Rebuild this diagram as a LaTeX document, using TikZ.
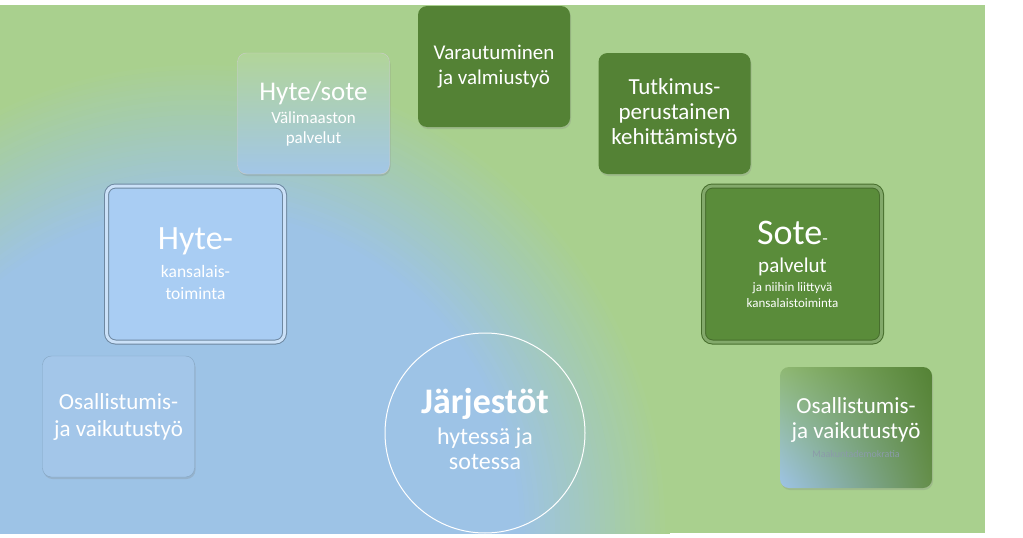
\documentclass[tikz,border=0pt]{standalone}
\usepackage{fontspec}
\setmainfont{Carlito}
\usetikzlibrary{shadows,shadings}

\definecolor{bgblue}{RGB}{157,195,230}
\definecolor{bggreen}{RGB}{169,208,142}
\definecolor{darkgreen}{RGB}{84,130,53}
\definecolor{sotegreen}{RGB}{90,140,58}
\definecolor{hyteblue}{RGB}{169,205,243}
\definecolor{osblue}{RGB}{163,198,233}

\tikzset{
  tile/.style={rounded corners=9pt, minimum width=152pt, minimum height=121pt,
    align=center, text=white, inner sep=0pt,
    drop shadow={opacity=0.25, shadow xshift=1pt, shadow yshift=-2pt}},
  bigtile/.style={tile, minimum width=178pt, minimum height=156pt, line width=1pt,
    double distance=3pt},
  ring/.style={circle, draw=white, line width=1pt, minimum size=200pt, inner sep=0pt,
    align=center, text=white}
}

\begin{document}
\begin{tikzpicture}[x=1pt,y=-1pt]
  \useasboundingbox (0,0) rectangle (1023,538);
  % background
  \begin{scope}
    \clip (0,5) rectangle (985,533);
    \fill[bggreen] (0,5) rectangle (985,533);
    \foreach \i in {0,...,30}
      \fill[bgblue!\fpeval{round(\i*100/30)}!bggreen] (200,530) circle [radius=470-5*\i];
  \end{scope}

  % green tiles
  \node[tile, fill=darkgreen, font=\fontsize{21}{25}\selectfont] (varau) at (494,66.5)
    {Varautuminen\\ja valmiustyö};
  \node[tile, fill=darkgreen, font=\fontsize{23}{25}\selectfont] (tutki) at (674.5,113.5)
    {Tutkimus-\\perustainen\\kehittämistyö};
  \node[bigtile, fill=sotegreen, draw=darkgreen!85!black, double=sotegreen!75!white,
    font=\fontsize{13}{16}\selectfont] (sote) at (792.5,264)
    {{\fontsize{36}{36}\selectfont Sote}{\fontsize{18}{18}\selectfont -}\\[12pt]
     {\fontsize{21}{26}\selectfont palvelut}\\[3pt]
     ja niihin liittyvä\\
     kansalaistoiminta};

  % blue tiles
  \node[tile, top color=bggreen!90!white, bottom color=bgblue!95!white, draw=gray!40,
    font=\fontsize{17}{20}\selectfont] (hysote) at (313.5,113.5)
    {{\fontsize{27}{27}\selectfont Hyte/sote}\\[3pt]
     Välimaaston\\
     palvelut};
  \node[bigtile, fill=hyteblue, draw=bgblue!70!black, double=hyteblue!60!white,
    font=\fontsize{17.5}{22}\selectfont] (hyte) at (195.5,264)
    {{\fontsize{34}{34}\selectfont Hyte-}\\[6pt]
     kansalais-\\
     toiminta};
  \node[tile, fill=osblue, draw=bgblue!85!black, font=\fontsize{23}{27}\selectfont] (osall) at (118.5,416.5)
    {Osallistumis-\\ja vaikutustyö};
  \node[tile, upper left=bggreen!70!darkgreen, upper right=darkgreen, lower left=bgblue,
    lower right=darkgreen!90!white, font=\fontsize{23}{25}\selectfont] (osalr) at (856,427.5)
    {Osallistumis-\\ja vaikutustyö\\[-6pt]
     {\fontsize{10}{12}\selectfont\color{gray!60!bgblue} Maakuntademokratia}};

  % centre
  \node[ring, font=\fontsize{24}{25}\selectfont, text depth=8pt] (jarj) at (485,433)
    {{\fontsize{36}{36}\selectfont\bfseries Järjestöt}\\[6pt]
     hytessä ja\\
     sotessa};
\end{tikzpicture}
\end{document}
